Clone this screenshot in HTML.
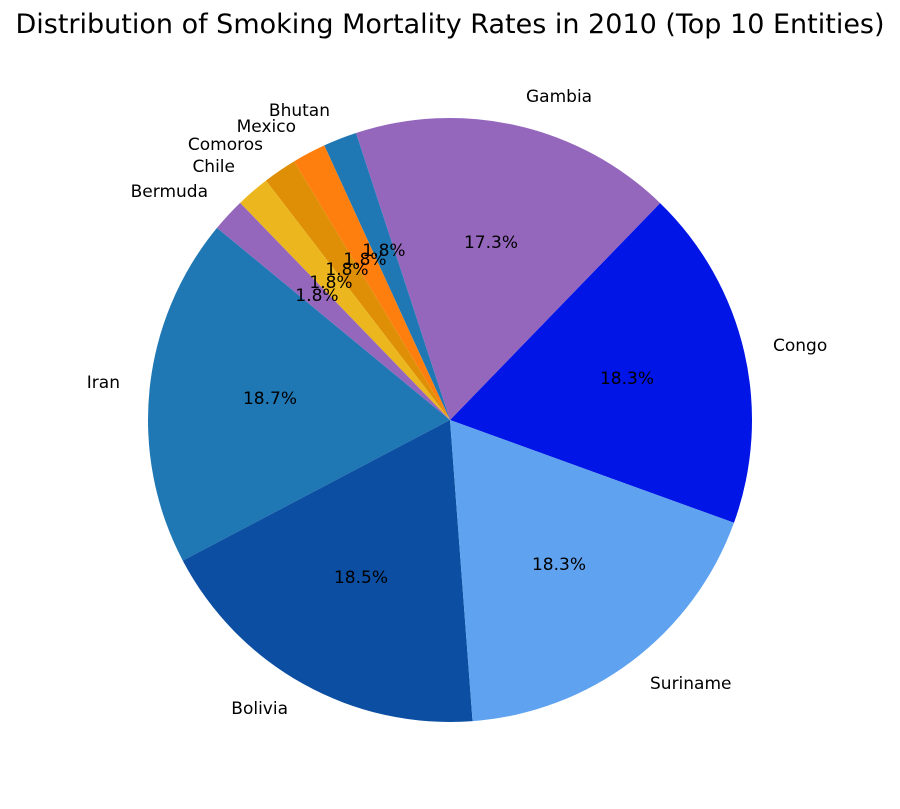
<!DOCTYPE html>
<html><head><meta charset="utf-8"><style>
html,body{margin:0;padding:0;background:#fff;}
svg{display:block;font-family:"DejaVu Sans","Liberation Sans",sans-serif;}
</style></head><body>
<svg id="s" width="900" height="809" viewBox="0 0 900 809">
<g id="pie"></g>
<text x="450" y="33" font-size="27" text-anchor="middle" fill="#000">Distribution of Smoking Mortality Rates in 2010 (Top 10 Entities)</text>
<g font-size="17" fill="#000" dominant-baseline="central">
<text x="526" y="97">Gambia</text>
<text x="773" y="346">Congo</text>
<text x="650" y="684">Suriname</text>
<text x="288" y="709" text-anchor="end">Bolivia</text>
<text x="120" y="383" text-anchor="end">Iran</text>
<text x="208" y="192" text-anchor="end">Bermuda</text>
<text x="235" y="167" text-anchor="end">Chile</text>
<text x="263" y="145" text-anchor="end">Comoros</text>
<text x="296" y="127" text-anchor="end">Mexico</text>
<text x="330" y="111" text-anchor="end">Bhutan</text>
</g>
<g font-size="17" fill="#000" text-anchor="middle" dominant-baseline="central">
<text x="491" y="243">17.3%</text>
<text x="627" y="379">18.3%</text>
<text x="559" y="565">18.3%</text>
<text x="361" y="578">18.5%</text>
<text x="270" y="399">18.7%</text>
<text x="384" y="251">1.8%</text>
<text x="365" y="260">1.8%</text>
<text x="347" y="270">1.8%</text>
<text x="331" y="283">1.8%</text>
<text x="317" y="296">1.8%</text>
</g>
</svg>
<script>
var cx=450,cy=420,r=302;
var d=[[18.3,"#0015e6"],[17.3,"#9467bd"],[1.8,"#1f77b4"],[1.8,"#ff7f0e"],[1.8,"#de8f05"],[1.8,"#ecb71e"],[1.8,"#9467bd"],[18.7,"#1f77b4"],[18.5,"#0b4ea2"],[18.3,"#5fa2f0"]];
var tot=0;d.forEach(function(x){tot+=x[0];});
var a=-19.9,g=document.getElementById("pie"),h="";
d.forEach(function(x){
 var b=a+x[0]/tot*360;
 var a1=a*Math.PI/180,a2=b*Math.PI/180;
 var x1=cx+r*Math.cos(a1),y1=cy-r*Math.sin(a1),x2=cx+r*Math.cos(a2),y2=cy-r*Math.sin(a2);
 var lg=(b-a)>180?1:0;
 h+='<path d="M'+cx+','+cy+' L'+x1+','+y1+' A'+r+','+r+' 0 '+lg+' 0 '+x2+','+y2+' Z" fill="'+x[1]+'"/>';
 a=b;
});
g.innerHTML=h;
</script>
</body></html>
